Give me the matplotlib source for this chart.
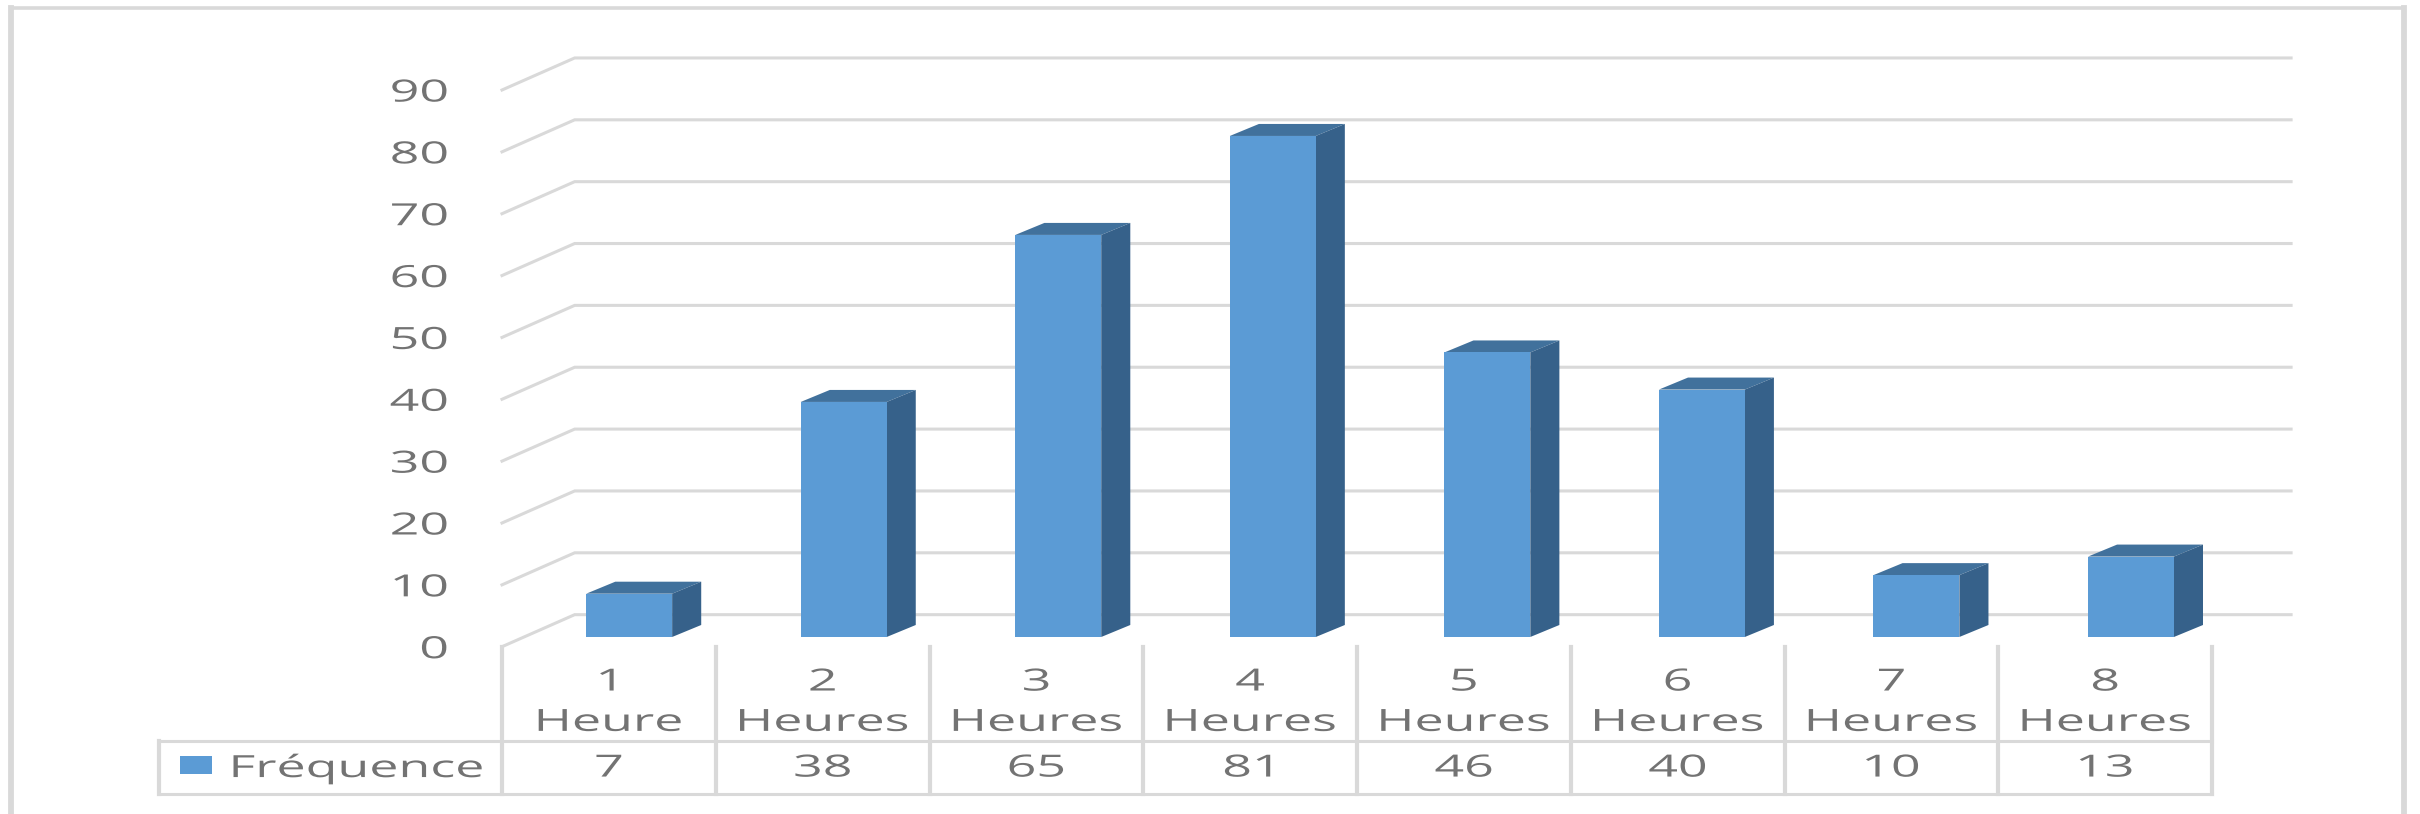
import matplotlib
matplotlib.use("Agg")
import matplotlib.pyplot as plt
from matplotlib.lines import Line2D
from matplotlib.patches import Rectangle
from matplotlib.patheffects import AbstractPathEffect
from matplotlib.transforms import Affine2D

# Data
categories = ["1\nHeure", "2\nHeures", "3\nHeures", "4\nHeures",
              "5\nHeures", "6\nHeures", "7\nHeures", "8\nHeures"]
frequencies = [7, 38, 65, 81, 46, 40, 10, 13]
y_ticks = [0, 10, 20, 30, 40, 50, 60, 70, 80, 90]
series_name = "Fréquence"

# Palette
FRONT = "#5B9BD5"
TOP = "#41719C"
SIDE = "#36618A"
GRID = "#D9D9D9"
TEXT = "#737373"

W, H = 2420, 814
FONT = "Open Sans"
FS = 22
WIDEN = 1.70


class WideGlyphs(AbstractPathEffect):
    """Stretch glyphs horizontally about one edge or the centre of the string."""

    def __init__(self, factor, anchor="center"):
        super().__init__()
        self.factor = factor
        self.anchor = anchor

    def draw_path(self, renderer, gc, tpath, affine, rgbFace=None):
        box = tpath.get_extents()
        pivot = {"left": box.x0, "right": box.x1,
                 "center": 0.5 * (box.x0 + box.x1)}[self.anchor]
        stretch = Affine2D().translate(-pivot, 0).scale(self.factor, 1).translate(pivot, 0)
        renderer.draw_path(gc, tpath, stretch + affine, rgbFace)


fig = plt.figure(figsize=(W / 100, H / 100), dpi=100, facecolor="white")

# Axes box is the front plane of the 3D floor and value range
x0, x1 = 502, 2212
y0, y1 = 646.7, 90.0
ax = fig.add_axes([x0 / W, 1 - y0 / H, (x1 - x0) / W, (y0 - y1) / H])
ax.set_xlim(0, len(categories))
ax.set_ylim(0, 90)
ax.patch.set_alpha(0)
for spine in ax.spines.values():
    spine.set_visible(False)

# Depth of the chart floor, in data units
back_dx, back_dy = 0.34, 5.18
back_right = 8.37

# Gridlines: short diagonal on the side wall, then along the back wall
for v in y_ticks:
    ax.plot([0, back_dx, back_right], [v, v + back_dy, v + back_dy],
            color=GRID, lw=2.2, clip_on=False, zorder=1, solid_joinstyle="miter")

# Bars: front face, top and side faces
bar_w = 0.402
bar_pitch = 1.0037
bar_first = 0.595
bar_dx, bar_dy = 0.136, 1.94
base = 1.57
for i, v in enumerate(frequencies):
    centre = bar_first + i * bar_pitch
    left = centre - bar_w / 2
    right = centre + bar_w / 2
    top = v + base
    ax.fill([left, right, right + bar_dx, left + bar_dx],
            [top, top, top + bar_dy, top + bar_dy],
            color=TOP, lw=0, clip_on=False, zorder=3)
    ax.fill([right, right + bar_dx, right + bar_dx, right],
            [base, base + bar_dy, top + bar_dy, top],
            color=SIDE, lw=0, clip_on=False, zorder=3)
    ax.bar(centre, v, bar_w, bottom=base, color=FRONT,
           lw=0, clip_on=False, zorder=4)

# Value axis labels
ax.set_yticks(y_ticks)
ax.set_yticklabels([str(v) for v in y_ticks], fontfamily=FONT, fontsize=FS, color=TEXT)
ax.tick_params(axis="y", length=0, pad=39)
for label in ax.get_yticklabels():
    label.set_path_effects([WideGlyphs(WIDEN, "right")])

# Category labels in the upper part of the data table
ax.set_xticks([i + 0.5 for i in range(len(categories))])
ax.set_xticklabels(categories, fontfamily=FONT, fontsize=FS, color=TEXT, linespacing=1.45)
ax.tick_params(axis="x", length=0, pad=15)
for label in ax.get_xticklabels():
    label.set_path_effects([WideGlyphs(WIDEN, "center")])

# Data table grid
row_top, row_bottom = -15.2, -23.8
legend_left = -1.605
n = len(categories)
table_lw_h, table_lw_v = 2.2, 3.0
for y in (row_top, row_bottom):
    ax.plot([legend_left, n], [y, y], color=GRID, lw=table_lw_h, clip_on=False, zorder=1)
ax.plot([legend_left, legend_left], [row_top, row_bottom], color=GRID,
        lw=table_lw_v, clip_on=False, zorder=1)
for i in range(n + 1):
    ax.plot([i, i], [0, row_bottom], color=GRID, lw=table_lw_v, clip_on=False, zorder=1)

# Data table values
row_y = -19.7
for i, v in enumerate(frequencies):
    ax.text(i + 0.5, row_y, str(v), ha="center", va="center", fontfamily=FONT,
            fontsize=FS, color=TEXT, clip_on=False,
            path_effects=[WideGlyphs(WIDEN, "center")])

# Legend key and series name
ax.add_patch(Rectangle((-1.507, -20.55), 0.15, 2.9, facecolor=FRONT, lw=0, clip_on=False))
ax.text(-1.27, row_y, series_name, ha="left", va="center", fontfamily=FONT,
        fontsize=FS, color=TEXT, clip_on=False,
        path_effects=[WideGlyphs(WIDEN, "left")])

# Chart border: heavier on the sides than along the top
fx0, fx1, fy0 = 11.5 / W, 2404 / W, 1 - 8 / H
for xs, ys, lw in (([fx0, fx0], [0, fy0], 4.2),
                   ([fx1, fx1], [0, fy0], 4.2),
                   ([fx0, fx1], [fy0, fy0], 2.6)):
    fig.add_artist(Line2D(xs, ys, color=GRID, lw=lw, transform=fig.transFigure,
                          solid_capstyle="projecting"))

fig.savefig("out.png", dpi=100, facecolor="white")
